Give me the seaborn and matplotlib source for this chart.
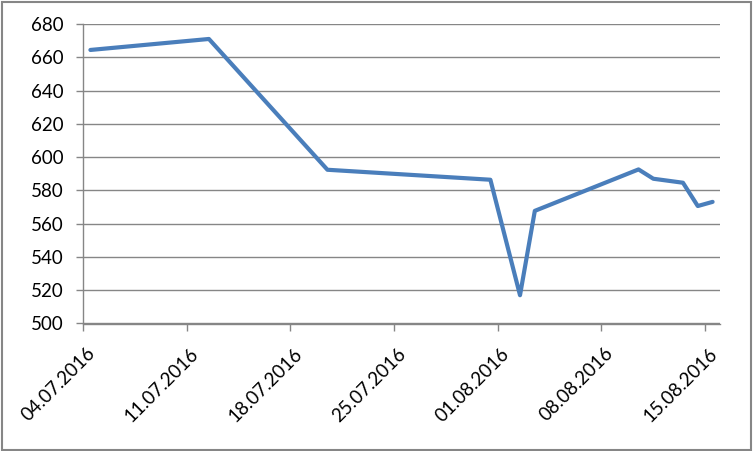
import matplotlib
matplotlib.use("Agg")
import matplotlib.pyplot as plt
import matplotlib.dates as mdates
from matplotlib.patches import Rectangle
from matplotlib.transforms import ScaledTranslation
import pandas as pd
import seaborn as sns

dates = ["04.07.2016", "12.07.2016", "20.07.2016", "31.07.2016", "02.08.2016",
         "03.08.2016", "10.08.2016", "11.08.2016", "13.08.2016", "14.08.2016",
         "15.08.2016"]
values = [664.4, 671.0, 592.4, 586.4, 517.0, 567.7, 592.6, 587.0, 584.6, 570.6, 573.1]
tick_dates = ["04.07.2016", "11.07.2016", "18.07.2016", "25.07.2016",
              "01.08.2016", "08.08.2016", "15.08.2016"]

sns.set_theme(style="white")
plt.rcParams['font.family'] = ['Lato', 'DejaVu Sans']

df = pd.DataFrame({
    "date": pd.to_datetime(dates, format="%d.%m.%Y") + pd.Timedelta(hours=12),
    "value": values,
})

fig = plt.figure(figsize=(7.53, 4.51), dpi=100)
ax = fig.add_axes([83 / 753, 1 - 323.5 / 451, (720 - 83) / 753, (323.5 - 24) / 451])

sns.lineplot(data=df, x="date", y="value", ax=ax, color="#4A7EBB", linewidth=3.0)

ticks = pd.to_datetime(tick_dates, format="%d.%m.%Y")
ax.set_xlim(pd.Timestamp("2016-07-04"), pd.Timestamp("2016-08-16"))
ax.set_xticks(ticks)
ax.set_ylim(500, 680)
ax.set_yticks(range(500, 681, 20))
ax.set_xlabel("")
ax.set_ylabel("")

ax.yaxis.grid(True, color="#868686", linewidth=1.0)
ax.xaxis.grid(False)
ax.set_axisbelow(True)
for s in ["top", "right"]:
    ax.spines[s].set_visible(False)
for s in ["left", "bottom"]:
    ax.spines[s].set_color("#868686")
    ax.spines[s].set_linewidth(1.0)
ax.tick_params(axis="both", which="major", direction="out", length=5, width=1,
               color="#868686", bottom=True, left=True)
ax.tick_params(axis="y", labelsize=13.5, labelcolor="black", pad=9)
ax.tick_params(axis="x", pad=6)

ax.set_xticklabels(tick_dates, rotation=45, ha="right", va="center",
                   rotation_mode="anchor", fontsize=13.5, color="black")
offset = ScaledTranslation(9 / 100, -12 / 100, fig.dpi_scale_trans)
for lab in ax.get_xticklabels():
    lab.set_transform(lab.get_transform() + offset)

fig.patches.append(Rectangle((0.002, 0.003), 0.995, 0.993, transform=fig.transFigure,
                             fill=False, edgecolor="#868686", linewidth=1.5))

fig.savefig("out.png", dpi=100)
